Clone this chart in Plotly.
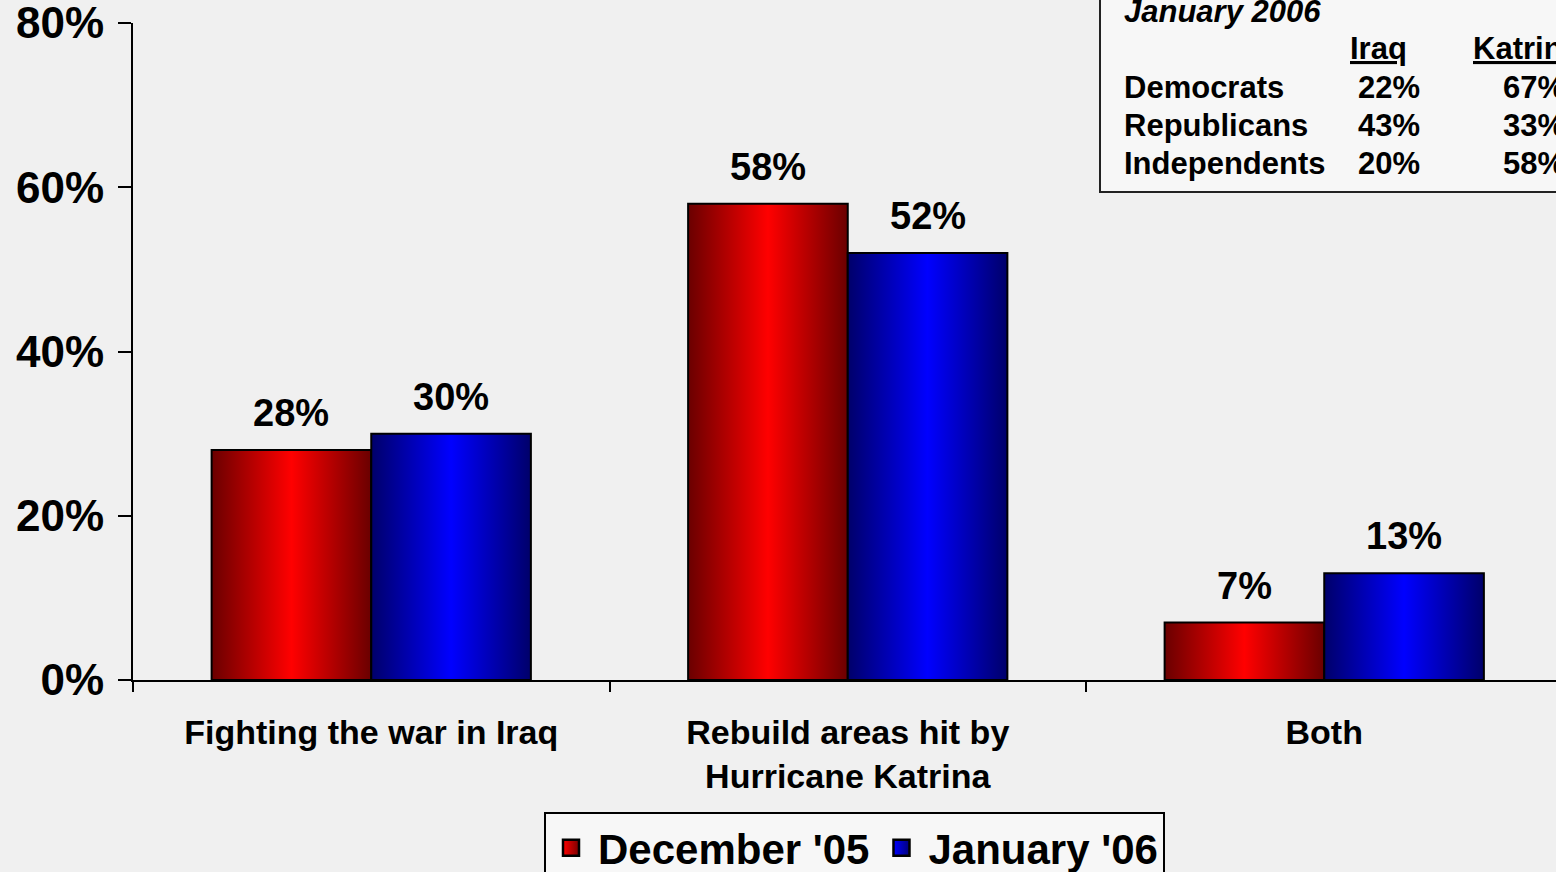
import plotly.graph_objects as go

categories = ["Fighting the war in Iraq", "Rebuild areas hit by<br>Hurricane Katrina", "Both"]
series_names = ["December '05", "January '06"]
dec_values = [28, 58, 7]
jan_values = [30, 52, 13]

y_ticks = [0, 20, 40, 60, 80]

inset_title = "January 2006"
inset_cols = ["Iraq", "Katrina"]
inset_rows = ["Democrats", "Republicans", "Independents"]
inset_iraq = ["22%", "43%", "20%"]
inset_katrina = ["67%", "33%", "58%"]

FONT = "Liberation Sans, Arial, sans-serif"
BG = "#f0f0f0"
BAR_W = 0.335

red_scale = [[0, "#6a0000"], [0.5, "#ff0000"], [1, "#6a0000"]]
blue_scale = [[0, "#00006a"], [0.5, "#0000ff"], [1, "#00006a"]]

W, H = 1556, 872
L, T = 133, 23
PLOT_BOTTOM = 680
B = H - PLOT_BOTTOM
R = 0
pw, ph = W - L - R, H - T - B


def px_x(p):
    return (p - L) / pw


def px_y(p):
    return (PLOT_BOTTOM - p) / ph


fig = go.Figure()

for s, (vals, scale, name) in enumerate([(dec_values, red_scale, series_names[0]),
                                          (jan_values, blue_scale, series_names[1])]):
    for i, v in enumerate(vals):
        x0 = i - BAR_W if s == 0 else i
        x1 = x0 + BAR_W
        fig.add_trace(go.Scatter(
            x=[x0, x0, x1, x1, x0], y=[0, v, v, 0, 0],
            mode="lines", fill="toself",
            fillgradient=dict(type="horizontal", colorscale=scale),
            line=dict(color="black", width=2),
            name=name, legendgroup=name, showlegend=False,
            hoverinfo="skip",
        ))
        fig.add_annotation(
            x=(x0 + x1) / 2, y=v, xref="x", yref="y",
            text=f"{v}%", showarrow=False, yanchor="bottom", yshift=14,
            font=dict(family=FONT, size=38, color="black", weight="bold"),
        )

# legend entries
for name, c_mid, c_edge in [(series_names[0], "#ff0000", "#7a0000"),
                            (series_names[1], "#0000ff", "#00007a")]:
    fig.add_trace(go.Scatter(
        x=[None], y=[None], mode="markers", name=name, legendgroup=name,
        marker=dict(symbol="square", size=16, color=c_mid,
                    line=dict(color="black", width=2.5),
                    gradient=dict(type="horizontal", color=c_edge)),
        showlegend=True,
    ))

fig.update_xaxes(
    range=[-0.5, -0.5 + pw / 476.5],
    tickmode="array", tickvals=list(range(len(categories))), ticktext=categories,
    ticks="outside", ticklen=10, tickcolor="rgba(0,0,0,0)",
    minor=dict(tickmode="array", tickvals=[-0.5, 0.5, 1.5, 2.5], ticks="outside",
               ticklen=10, tickwidth=2, tickcolor="black", showgrid=False),
    showline=True, linecolor="black", linewidth=2,
    showgrid=False, zeroline=False,
    tickfont=dict(family=FONT, size=34, color="black", weight="bold"),
    ticklabelstandoff=11,
    fixedrange=True,
)
fig.update_yaxes(
    range=[0, 80], tickmode="array", tickvals=y_ticks,
    ticktext=[f"{t}%" for t in y_ticks],
    ticks="outside", ticklen=13, tickwidth=2, tickcolor="black",
    showline=True, linecolor="black", linewidth=2,
    showgrid=False, zeroline=False,
    tickfont=dict(family=FONT, size=44, color="black", weight="bold"),
    ticklabelstandoff=5, ticklabeloverflow="allow",
    fixedrange=True,
)

# inset table box
fig.add_shape(type="rect", xref="paper", yref="paper",
              x0=px_x(1100), x1=px_x(1600), y0=px_y(192), y1=px_y(-20),
              line=dict(color="#222222", width=2), fillcolor="#f7f7f7", layer="below")

tfont = dict(family=FONT, size=31, color="black", weight="bold")
fig.add_annotation(xref="paper", yref="paper", x=px_x(1122), y=px_y(11),
                   text=f"<i>{inset_title}</i>", showarrow=False,
                   xanchor="left", yanchor="middle", font=tfont)
fig.add_annotation(xref="paper", yref="paper", x=px_x(1378), y=px_y(48),
                   text=f"<u>{inset_cols[0]}</u>", showarrow=False,
                   xanchor="center", yanchor="middle", font=tfont)
fig.add_annotation(xref="paper", yref="paper", x=px_x(1471), y=px_y(48),
                   text=f"<u>{inset_cols[1]}</u>", showarrow=False,
                   xanchor="left", yanchor="middle", font=tfont)
row_y = [87, 125, 163]
for r, lab in enumerate(inset_rows):
    fig.add_annotation(xref="paper", yref="paper", x=px_x(1122), y=px_y(row_y[r]),
                       text=lab, showarrow=False, xanchor="left", yanchor="middle", font=tfont)
    fig.add_annotation(xref="paper", yref="paper", x=px_x(1389), y=px_y(row_y[r]),
                       text=inset_iraq[r], showarrow=False, xanchor="center", yanchor="middle", font=tfont)
    fig.add_annotation(xref="paper", yref="paper", x=px_x(1501), y=px_y(row_y[r]),
                       text=inset_katrina[r], showarrow=False, xanchor="left", yanchor="middle", font=tfont)

fig.update_layout(
    width=W, height=H,
    margin=dict(l=L, r=R, t=T, b=B, pad=0, autoexpand=False),
    paper_bgcolor=BG, plot_bgcolor=BG,
    showlegend=True,
    legend=dict(
        orientation="h", x=px_x(854.5), y=px_y(812), xanchor="center", yanchor="top",
        bgcolor="#f7f7f7", bordercolor="black", borderwidth=2,
        font=dict(family=FONT, size=42, color="black", weight="bold"),
        itemwidth=44, tracegroupgap=0, itemsizing="trace",
    ),
)

fig.write_html(
    "out.html",
    config={"displayModeBar": False},
    post_script="document.body.style.margin='0';document.body.style.overflow='hidden';",
)
